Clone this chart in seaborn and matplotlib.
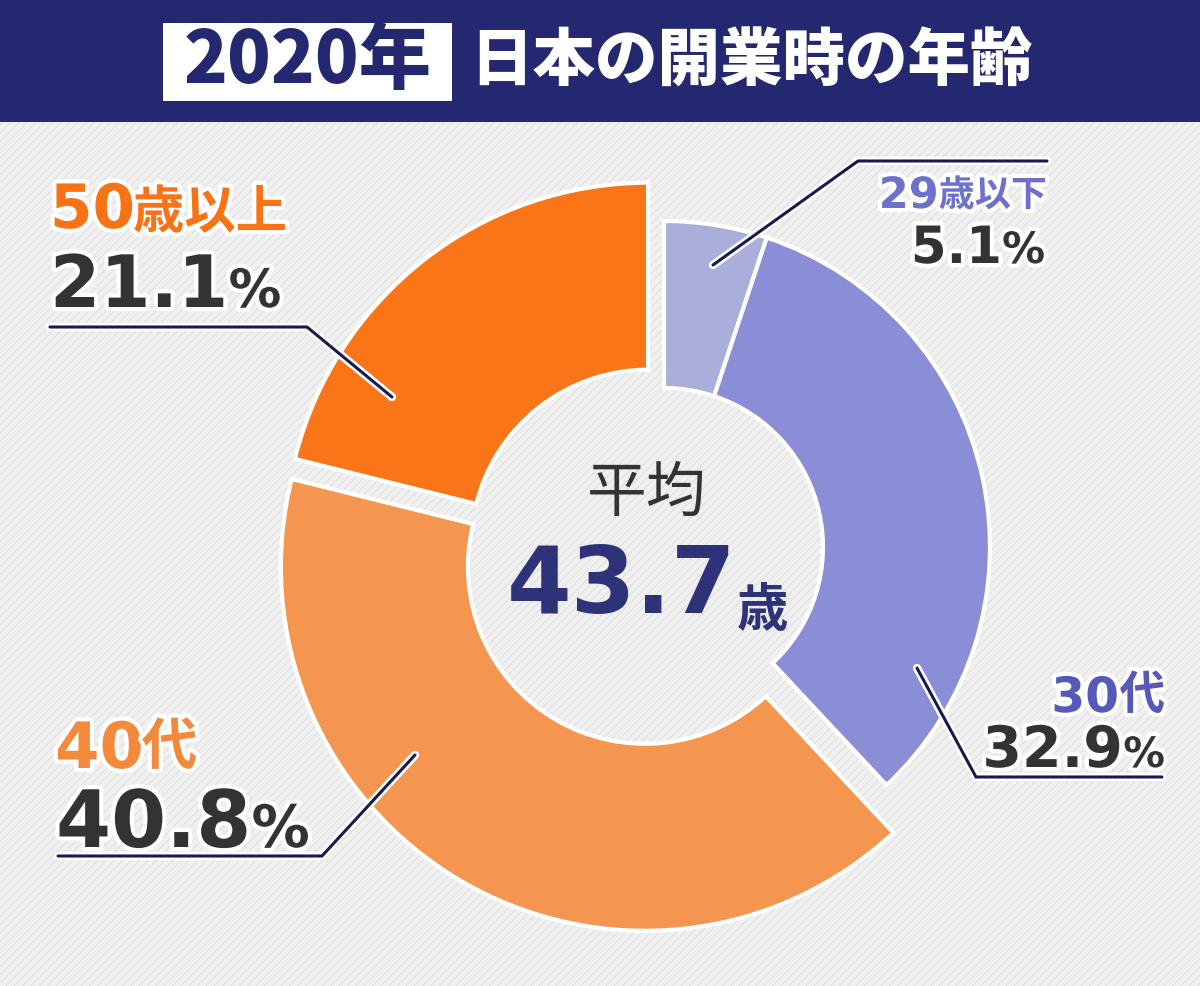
import matplotlib
matplotlib.use("Agg")
import matplotlib.pyplot as plt
import matplotlib.patheffects as pe
from matplotlib.patches import Rectangle
import seaborn as sns

# data
groups = ['29歳以下', '30代', '40代', '50歳以上']
shares = [5.1, 32.9, 40.8, 21.1]
colors = ['#a9aedb', '#8a8ed6', '#f49550', '#f97518']
avg_age = 43.7
year = 2020
title = '日本の開業時の年齢'

sns.set_theme(style='white')
plt.rcParams['font.family'] = ['DejaVu Sans', 'Noto Sans CJK JP']
plt.rcParams['hatch.linewidth'] = 0.7
plt.rcParams['hatch.color'] = '#dedede'

W, H = 1200, 986
fig = plt.figure(figsize=(W / 100, H / 100), dpi=100)
ax = fig.add_axes([0, 0, 1, 1])
rend = fig.canvas.get_renderer()

def Y(y):
    return H - y

# striped background
ax.add_patch(Rectangle((0, 0), W, H, facecolor='#f0f0f0', edgecolor='#dedede',
                       hatch='////', lw=0, zorder=0))

edge = dict(edgecolor='white', linewidth=3)

# orange pair (40代, 50歳以上): bigger ring, slightly exploded
w_or, _ = ax.pie(shares, radius=364, center=(653, Y(553)), startangle=90,
                 counterclock=False, colors=colors, explode=[0, 0, 16, 8],
                 wedgeprops=dict(width=187, **edge))
# blue pair (29歳以下, 30代): smaller ring shifted right
w_bl, _ = ax.pie(shares, radius=326, center=(664, Y(547)), startangle=90,
                 counterclock=False, colors=colors,
                 wedgeprops=dict(width=167, **edge))
for i in range(4):
    w_or[i].set_visible(i >= 2)
    w_bl[i].set_visible(i < 2)
    w_or[i].set_zorder(2)
    w_bl[i].set_zorder(2)

ax.set_xlim(0, W)
ax.set_ylim(0, H)
ax.set_aspect('equal')
ax.axis('off')

# leader lines
halo_line = [pe.Stroke(linewidth=6, foreground='white'), pe.Normal()]
leaders = [
    [(713, 265), (858, 161), (1047, 161)],
    [(917, 668), (976, 777), (1162, 777)],
    [(415, 755), (322, 856), (58, 856)],
    [(392, 397), (307, 327), (50, 327)],
]
for pts in leaders:
    ax.plot([p[0] for p in pts], [Y(p[1]) for p in pts], color='#161a50', lw=2.2,
            solid_capstyle='round', solid_joinstyle='miter', path_effects=halo_line, zorder=3)

halo = [pe.withStroke(linewidth=6, foreground='white')]
NUM = ['DejaVu Sans', 'Noto Sans CJK JP']
JP = ['Noto Sans CJK JP', 'DejaVu Sans']

def lab(x, y, s, size, color, ha='left', family=NUM, weight='bold', effects=halo):
    return ax.text(x, Y(y), s, fontsize=size, color=color, ha=ha, va='baseline',
                   family=family, fontweight=weight, path_effects=effects, zorder=4)

def pair(x, y, a, sa, b, sb, color, fb=NUM, dy=0, align='left', gap=0, effects=halo):
    # two-part label: a (big number) followed by b (unit)
    if align == 'left':
        t = lab(x, y, a, sa, color, effects=effects)
        x1 = t.get_window_extent(rend).x1
        lab(x1 + gap, y + dy, b, sb, color, family=fb, effects=effects)
    else:
        t = lab(x, y + dy, b, sb, color, ha='right', family=fb, effects=effects)
        x0 = t.get_window_extent(rend).x0
        lab(x0 - gap, y, a, sa, color, ha='right', effects=effects)

def split(name):
    i = 0
    while i < len(name) and name[i].isdigit():
        i += 1
    return name[:i], name[i:]

dark = '#333333'

# 29歳以下
n, u = split(groups[0])
pair(1047, 208, n, 31, u, 26, '#6e71cc', fb=JP, dy=-2, align='right')
pair(1045, 263, f'{shares[0]}', 37, '%', 31, dark, align='right')

# 30代
n, u = split(groups[1])
pair(1165, 712, n, 35, u, 33, '#5559b9', fb=JP, dy=-3, align='right')
pair(1165, 767, f'{shares[1]}', 41, '%', 30, dark, align='right')

# 40代
n, u = split(groups[2])
pair(55, 768, n, 46, u, 40, '#f5893b', fb=JP, dy=-4, gap=-2)
pair(56, 847, f'{shares[2]}', 57, '%', 42, dark)

# 50歳以上
n, u = split(groups[3])
pair(50, 228, n, 44, u, 37, '#f97316', fb=JP, gap=-2)
pair(50, 307, f'{shares[3]}', 52, '%', 38, dark)

# centre
ax.text(647, Y(494), '平均', fontsize=43, color=dark, ha='center', va='center',
        family=JP, fontweight='normal', zorder=4)
pair(507, 613, f'{avg_age}', 67, '歳', 37, '#2e3379', fb=JP, dy=13, gap=0, effects=None)

# header
ax.add_patch(Rectangle((0, Y(122)), W, 122, facecolor='#232870', lw=0, zorder=5))
ax.add_patch(Rectangle((163, Y(101)), 289, 78, facecolor='white', lw=0, zorder=6))
ax.text(308, Y(62), f'{year}年', fontsize=52, color='#232870', ha='center', va='center',
        family=JP, fontweight='black', zorder=7)
ax.text(470, Y(62), title, fontsize=45, color='white', ha='left', va='center',
        family=JP, fontweight='black', zorder=7)

fig.savefig('out.png', dpi=100)
